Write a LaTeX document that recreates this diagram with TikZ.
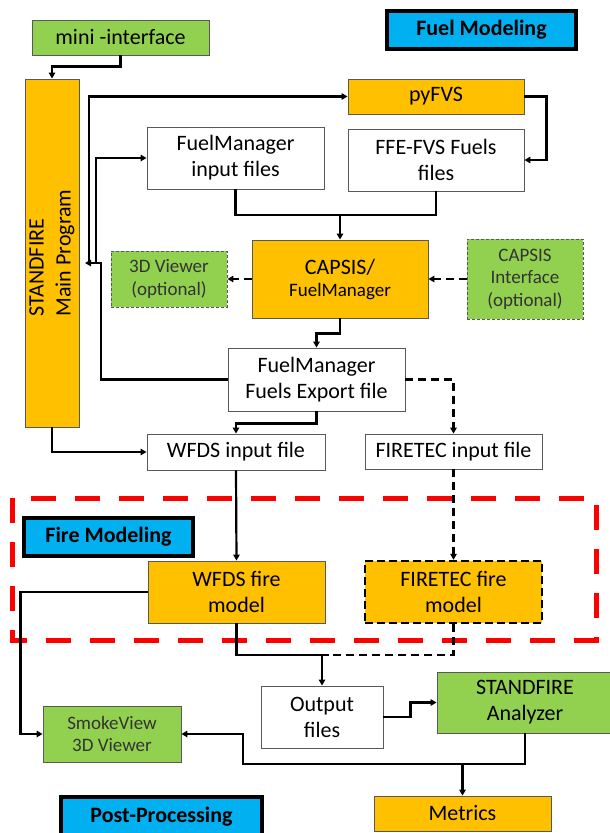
\documentclass[tikz,border=0pt]{standalone}
\usepackage{fontspec}
\setmainfont{Carlito}
\usetikzlibrary{arrows.meta}
\definecolor{orangeC}{HTML}{FFC000}
\definecolor{greenC}{HTML}{92D050}
\definecolor{blueC}{HTML}{00B0F0}
\definecolor{redC}{HTML}{FF0000}
\begin{document}
\begin{tikzpicture}[x=1pt,y=-1pt,
  box/.style={draw=black!65, line width=0.9pt, inner sep=0pt, align=center, font=\fontsize{22}{26}\selectfont, text=black},
  wbox/.style={box, fill=white},
  obox/.style={box, fill=orangeC},
  gbox/.style={box, fill=greenC},
  optbox/.style={box, fill=greenC, dash pattern=on 3pt off 2pt, font=\fontsize{19}{22.5}\selectfont, text=black!80},
  smallg/.style={box, fill=greenC, font=\fontsize{19}{22.5}\selectfont, text=black!80},
  labelbox/.style={box, fill=blueC, draw=black, line width=3.5pt, font=\bfseries\fontsize{22}{26}\selectfont},
  line/.style={line width=2.2pt},
  conn/.style={line, -{Triangle[length=6pt,width=6.5pt]}},
  dline/.style={line, dash pattern=on 8pt off 5pt},
  dconn/.style={conn, dash pattern=on 8pt off 5pt},
]
\useasboundingbox (0,0) rectangle (610,833);
% Fire modeling frame
\draw[redC, line width=5pt, dash pattern=on 25pt off 19pt] (12,498) rectangle (596,640);

% nodes
\node[gbox, minimum width=177pt, minimum height=35pt] (mini) at (120.5,37.5) {mini -interface};
\node[labelbox, minimum width=189pt, minimum height=38pt] (fuelmod) at (481.5,30) {Fuel Modeling};
\node[obox, minimum width=54pt, minimum height=348pt] (stand) at (52,253) {};
\node[rotate=90, align=left, font=\fontsize{22}{27}\selectfont] (standtext) at (stand.center) {STANDFIRE\\Main Program};
\node[obox, minimum width=176pt, minimum height=35pt] (pyfvs) at (436,96.5) {pyFVS};
\node[wbox, minimum width=177pt, minimum height=62pt] (fmin) at (235.5,158) {FuelManager\\input files};
\node[wbox, minimum width=176pt, minimum height=62pt] (ffe) at (436,160) {FFE-FVS Fuels\\files};
\node[obox, minimum width=176pt, minimum height=78pt] (capsis) at (340,279) {CAPSIS/\\[-4pt]{\fontsize{19}{24}\selectfont FuelManager}};
\node[optbox, minimum width=116pt, minimum height=56pt] (viewer) at (169,279) {3D Viewer\\(optional)};
\node[optbox, minimum width=116pt, minimum height=80pt] (capint) at (525,279) {CAPSIS\\Interface\\(optional)};
\node[wbox, minimum width=177pt, minimum height=63pt] (export) at (316.5,379.5) {FuelManager\\Fuels Export file};
\node[wbox, minimum width=178pt, minimum height=36pt] (wfdsin) at (236,452) {WFDS input file};
\node[wbox, minimum width=177pt, minimum height=35pt] (firein) at (453.5,451.5) {FIRETEC input file};
\node[labelbox, minimum width=169pt, minimum height=38pt] (firemod) at (108.5,537) {Fire Modeling};
\node[obox, minimum width=177pt, minimum height=62pt] (wfdsfire) at (236.5,592) {WFDS fire\\model};
\node[obox, draw=black, line width=2.4pt, dash pattern=on 8pt off 4pt, minimum width=177pt, minimum height=62pt] (firetecfire) at (453.5,592) {FIRETEC fire\\model};
\node[wbox, minimum width=122pt, minimum height=62pt] (output) at (322,717) {Output\\files};
\node[gbox, minimum width=176pt, minimum height=61pt] (analyzer) at (525,702.5) {STANDFIRE\\Analyzer};
\node[smallg, minimum width=138pt, minimum height=56pt] (smoke) at (112,734) {SmokeView\\3D Viewer};
\node[labelbox, minimum width=201pt, minimum height=39pt] (post) at (161.5,816.5) {Post-Processing};
\node[obox, minimum width=177pt, minimum height=35pt] (metrics) at (462.5,813.5) {Metrics};

% free coordinates
\coordinate (s1) at (89,263);
\coordinate (s2) at (96,263);
\coordinate (sin) at (85,263);
\coordinate (m1) at (340,215);
\coordinate (m2) at (322,655);
\coordinate (m3) at (462.5,764);

% connectors
\draw[conn] (mini.south) -- ++(0,11) -| (stand.north);
\draw[conn] (export.west) -| (101,263) -- (sin);
\draw[conn] (s1) |- (pyfvs.west);
\draw[conn] (s2) |- (fmin.west);
\draw[conn] (pyfvs.east) -- ++(22,0) |- (ffe.east);
\draw[line] (fmin.south) |- (m1);
\draw[line] (ffe.south) |- (m1);
\draw[conn] (m1) -- (capsis.north);
\draw[dconn] (capsis.west) -- (viewer.east);
\draw[dconn] (capint.west) -- (capsis.east);
\draw[conn] (capsis.south) -- ++(0,15) -| (export.north);
\draw[dconn] (export.east) -| (firein.north);
\draw[conn] (export.south) -- ++(0,12) -| (wfdsin.north);
\draw[conn] (stand.south) |- (wfdsin.west);
\draw[conn] (wfdsin.south) -- (wfdsfire.north);
\draw[dconn] (firein.south) -- (firetecfire.north);
\draw[line] (wfdsfire.south) |- ([xshift=6pt]m2);
\draw[dline] (firetecfire.south) |- ([xshift=6pt]m2);
\draw[conn] (m2) -- (output.north);
\draw[conn] (output.east) -- ++(27,0) |- (analyzer.west);
\draw[conn] (analyzer.south) |- (243,764) |- (smoke.east);
\draw[conn] (m3) -- (metrics.north);
\draw[conn] (wfdsfire.west) -- ++(-127,0) |- (smoke.west);
\end{tikzpicture}
\end{document}
